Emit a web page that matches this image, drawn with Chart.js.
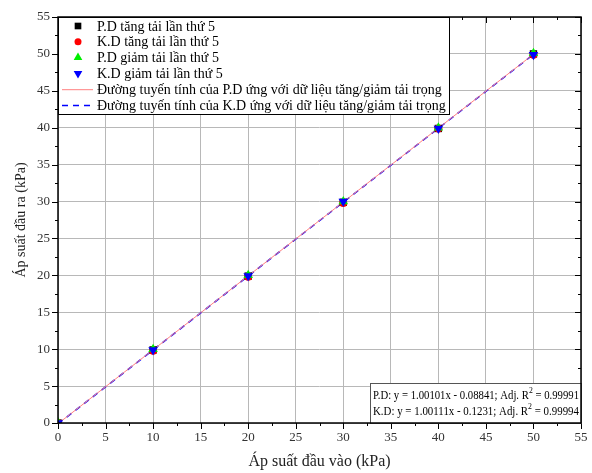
<!DOCTYPE html>
<html>
<head>
<meta charset="utf-8">
<script src="https://cdn.jsdelivr.net/npm/chart.js"></script>
<style>
  body { margin: 0; background: #fff; }
</style>
</head>
<body>
<canvas id="pressureChart" width="592" height="473"></canvas>
<script>
// input pressure (kPa) for each load step
const inputKPa = [0, 10, 20, 30, 40, 50];
// output pressure (kPa)
const pdUp = [0.0, 9.9, 19.9, 29.9, 39.9, 50.0];
const kdUp = [0.0, 9.8, 19.8, 29.8, 39.9, 49.9];
const pdDown = [0.1, 10.0, 20.0, 30.0, 40.0, 50.1];
const kdDown = [0.0, 9.9, 19.9, 30.0, 39.9, 49.9];
// fitted line end points
const fitX = [0, 50];
const pdFitY = [-0.09, 49.96];
const kdFitY = [-0.12, 49.93];

const seriesNames = [
    'P.D tăng tải lần thứ 5',
    'K.D tăng tải lần thứ 5',
    'P.D giảm tải lần thứ 5',
    'K.D giảm tải lần thứ 5',
    'Đường tuyến tính của P.D ứng với dữ liệu tăng/giảm tải trọng',
    'Đường tuyến tính của K.D ứng với dữ liệu tăng/giảm tải trọng'
];
const fitTexts = [
    ['P.D: y = 1.00101x - 0.08841; Adj. R', '2', ' = 0.99991'],
    ['K.D: y = 1.00111x - 0.1231; Adj. R', '2', ' = 0.99994']
];

const serif = "'Liberation Serif', 'Times New Roman', serif";

function toPoints(xs, ys) {
    return xs.map((x, i) => ({ x: x, y: ys[i] }));
}

const markerStyles = [
    { pointStyle: 'rect', color: '#000000', radius: 5.2, rotation: 0 },
    { pointStyle: 'circle', color: '#ff0000', radius: 4, rotation: 0 },
    { pointStyle: 'triangle', color: '#00ee00', radius: 5.5, rotation: 0 },
    { pointStyle: 'triangle', color: '#0000ff', radius: 5.5, rotation: 180 }
];
const markerData = [pdUp, kdUp, pdDown, kdDown];

const datasets = markerData.map((ys, i) => ({
    label: seriesNames[i],
    data: toPoints(inputKPa, ys),
    showLine: false,
    pointStyle: markerStyles[i].pointStyle,
    pointRotation: markerStyles[i].rotation,
    pointRadius: markerStyles[i].radius,
    pointBackgroundColor: markerStyles[i].color,
    pointBorderColor: markerStyles[i].color,
    pointBorderWidth: 0,
    order: 4 - i,
    clip: 0
}));

datasets.push({
    label: seriesNames[4],
    data: toPoints(fitX, pdFitY),
    showLine: true,
    borderColor: '#ff8080',
    borderWidth: 1,
    pointRadius: 0,
    order: 5,
    clip: 0
});
datasets.push({
    label: seriesNames[5],
    data: toPoints(fitX, kdFitY),
    showLine: true,
    borderColor: '#0000ff',
    borderWidth: 1.5,
    borderDash: [6, 5],
    pointRadius: 0,
    order: 6,
    clip: 0
});

// frame, minor ticks, legend box and fit box
const framePlugin = {
    id: 'frame',
    afterDraw(chart) {
        const ctx = chart.ctx;
        const a = chart.chartArea;
        const xs = chart.scales.x;
        const ys = chart.scales.y;
        ctx.save();

        // ticks on all four sides
        ctx.strokeStyle = '#000';
        ctx.lineWidth = 1;
        for (let v = 0; v <= 55; v += 2.5) {
            const len = v % 5 === 0 ? 6 : 3;
            const px = Math.round(xs.getPixelForValue(v)) + 0.5;
            const py = Math.round(ys.getPixelForValue(v)) + 0.5;
            ctx.beginPath();
            ctx.moveTo(px, a.bottom); ctx.lineTo(px, a.bottom + len);
            ctx.moveTo(px, a.top); ctx.lineTo(px, a.top + len);
            ctx.moveTo(a.left, py); ctx.lineTo(a.left - len, py);
            ctx.moveTo(a.right, py); ctx.lineTo(a.right - len, py);
            ctx.stroke();
        }

        // legend box
        const lx = a.left, ly = a.top, lw = 391, lh = 97;
        ctx.fillStyle = '#fff';
        ctx.fillRect(lx, ly, lw, lh);
        ctx.strokeStyle = '#000';
        ctx.lineWidth = 1;
        ctx.strokeRect(lx + 0.5, ly + 0.5, lw, lh);
        ctx.font = '14px ' + serif;
        ctx.textBaseline = 'middle';
        ctx.textAlign = 'left';
        seriesNames.forEach((name, i) => {
            const cy = ly + 9 + i * 15.8;
            const cx = lx + 20;
            if (i < 4) {
                const m = markerStyles[i];
                ctx.fillStyle = m.color;
                ctx.strokeStyle = m.color;
                Chart.helpers.drawPoint(ctx, {
                    pointStyle: m.pointStyle,
                    rotation: m.rotation,
                    radius: m.radius - 0.5,
                    borderWidth: 0
                }, cx, cy);
            } else {
                const ds = datasets[i];
                ctx.strokeStyle = ds.borderColor;
                ctx.lineWidth = ds.borderWidth;
                ctx.setLineDash(ds.borderDash || []);
                ctx.beginPath();
                ctx.moveTo(lx + 4, cy + 0.5);
                ctx.lineTo(lx + 35, cy + 0.5);
                ctx.stroke();
                ctx.setLineDash([]);
            }
            ctx.fillStyle = '#000';
            ctx.fillText(name, lx + 39, cy + 1);
        });

        // fit equation box (text squeezed a bit to fit like the original)
        const bx = 370, by = 383, bw = a.right - bx, bh = a.bottom - by;
        ctx.fillStyle = '#fff';
        ctx.fillRect(bx, by, bw, bh);
        ctx.strokeStyle = '#555';
        ctx.lineWidth = 1;
        ctx.strokeRect(bx + 0.5, by + 0.5, bw, bh);
        fitTexts.forEach((parts, i) => {
            const ty = by + 13 + i * 15.5;
            ctx.font = '12.5px ' + serif;
            const w0 = ctx.measureText(parts[0]).width;
            const w2 = ctx.measureText(parts[2]).width;
            ctx.font = '9px ' + serif;
            const w1 = ctx.measureText(parts[1]).width;
            const sx = Math.min(1, 206 / (w0 + w1 + w2));
            ctx.save();
            ctx.translate(bx + 3, ty);
            ctx.scale(sx, 1);
            ctx.fillStyle = '#000';
            ctx.font = '12.5px ' + serif;
            ctx.fillText(parts[0], 0, 0);
            ctx.font = '9px ' + serif;
            ctx.fillText(parts[1], w0, -5);
            ctx.font = '12.5px ' + serif;
            ctx.fillText(parts[2], w0 + w1, 0);
            ctx.restore();
        });

        // plot frame
        ctx.strokeStyle = '#000';
        ctx.lineWidth = 1.5;
        ctx.strokeRect(a.left, a.top, a.right - a.left, a.bottom - a.top);
        ctx.restore();
    }
};

const ctx1 = document.getElementById('pressureChart').getContext('2d');
const pressureChart = new Chart(ctx1, {
    type: 'scatter',
    data: { datasets: datasets },
    options: {
        responsive: false,
        animation: false,
        devicePixelRatio: 1,
        layout: { padding: { top: 17, right: 11, left: 0, bottom: 0 } },
        scales: {
            x: {
                type: 'linear',
                min: 0,
                max: 55,
                afterFit: (scale) => {
                    scale.height = 50;
                    scale.paddingLeft = 0;
                    scale.paddingRight = 0;
                },
                grid: { color: '#b8b8b8', lineWidth: 1, drawTicks: false },
                border: { display: false },
                ticks: {
                    stepSize: 5,
                    padding: 7,
                    color: '#333',
                    font: { family: serif, size: 13 }
                },
                title: {
                    display: true,
                    text: 'Áp suất đầu vào (kPa)',
                    color: '#222',
                    font: { family: serif, size: 16 },
                    padding: { top: 0, bottom: 2 }
                }
            },
            y: {
                type: 'linear',
                min: 0,
                max: 55,
                afterFit: (scale) => {
                    scale.width = 58;
                    scale.paddingTop = 0;
                    scale.paddingBottom = 0;
                },
                grid: { color: '#b8b8b8', lineWidth: 1, drawTicks: false },
                border: { display: false },
                ticks: {
                    stepSize: 5,
                    padding: 8,
                    color: '#333',
                    font: { family: serif, size: 13 }
                },
                title: {
                    display: true,
                    text: 'Áp suất đầu ra (kPa)',
                    color: '#222',
                    font: { family: serif, size: 14 },
                    padding: { top: 13, bottom: 0 }
                }
            }
        },
        plugins: {
            legend: { display: false },
            tooltip: { enabled: false }
        }
    },
    plugins: [framePlugin]
});
</script>
</body>
</html>
